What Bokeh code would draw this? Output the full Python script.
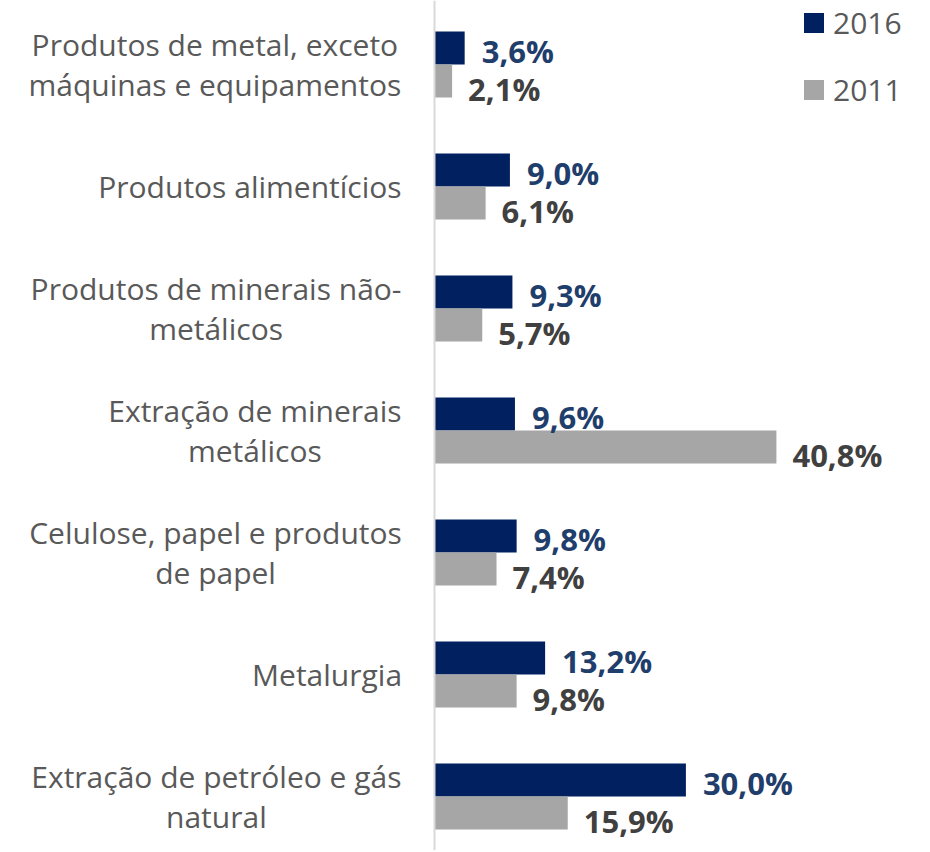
import unicodedata
from bokeh.plotting import figure
from bokeh.models import Range1d, Span, ColumnDataSource, Legend, LegendItem
from bokeh.core.properties import value
from bokeh.embed import file_html
from bokeh.resources import INLINE

categories = [
    "Produtos de metal, exceto\nmáquinas e equipamentos",
    "Produtos alimentícios",
    "Produtos de minerais não-\nmetálicos",
    "Extração de minerais\nmetálicos",
    "Celulose, papel e produtos\nde papel",
    "Metalurgia",
    "Extração de petróleo e gás\nnatural",
]
values_2016 = [3.6, 9.0, 9.3, 9.6, 9.8, 13.2, 30.0]
values_2011 = [2.1, 6.1, 5.7, 40.8, 7.4, 9.8, 15.9]
series_names = ["2016", "2011"]

FONT = "Open Sans"
CAT_SIZE = 30
C2016 = "#002060"
C2011 = "#A6A6A6"
L2016 = "#1F3E6B"
L2011 = "#404040"
CAT = "#595959"

# approximate Open Sans Regular advance widths (units per em = 2048),
# used only to centre multi-line labels under a right-aligned block
ADV = {" ": 532, ",": 502, "-": 659, ".": 545, "a": 1139, "b": 1255, "c": 975,
       "d": 1255, "e": 1149, "f": 694, "g": 1122, "h": 1257, "i": 518, "j": 518,
       "k": 1075, "l": 518, "m": 1905, "n": 1257, "o": 1237, "p": 1255, "q": 1255,
       "r": 836, "s": 977, "t": 723, "u": 1257, "v": 1026, "w": 1593, "x": 1073,
       "y": 1028, "z": 954, "C": 1245, "E": 1128, "M": 1761, "P": 1206}


def text_width(s, size):
    base = "".join(c for c in unicodedata.normalize("NFD", s)
                   if not unicodedata.combining(c))
    return sum(ADV.get(c, 1100) for c in base) / 2048 * size


idx = list(range(len(categories)))
bh = 0.27


def fmt(v):
    return f"{v:.1f}%".replace(".", ",")


src16 = ColumnDataSource(dict(y=[i - bh / 2 for i in idx], v=values_2016,
                              lab=[fmt(v) for v in values_2016]))
src11 = ColumnDataSource(dict(y=[i + bh / 2 for i in idx], v=values_2011,
                              lab=[fmt(v) for v in values_2011]))
cat_offsets = [-33 - max(text_width(l, CAT_SIZE) for l in c.split("\n")) / 2
               for c in categories]
srccat = ColumnDataSource(dict(y=idx, x=[0] * len(idx), t=categories, xo=cat_offsets))

p = figure(width=928, height=850, x_range=Range1d(-51.79, 58.95),
           y_range=Range1d(6.4426, -0.5246), output_backend="svg",
           toolbar_location=None, min_border=0)
p.axis.visible = False
p.grid.visible = False
p.outline_line_color = None
p.background_fill_color = "white"

r16 = p.hbar(y="y", right="v", left=0, height=bh, source=src16,
             fill_color=C2016, line_color=None)
r11 = p.hbar(y="y", right="v", left=0, height=bh, source=src11,
             fill_color=C2011, line_color=None)

p.add_layout(Span(location=0, dimension="height", line_color="#D9D9D9", line_width=2))

p.text(x="v", y="y", text="lab", source=src16, x_offset=17, y_offset=3,
       text_font=value(FONT), text_font_style="bold", text_font_size="31px",
       text_color=L2016, text_baseline="middle", text_align="left")
p.text(x="v", y="y", text="lab", source=src11, x_offset=16, y_offset=8,
       text_font=value(FONT), text_font_style="bold", text_font_size="31px",
       text_color=L2011, text_baseline="middle", text_align="left")

p.text(x="x", y="y", text="t", source=srccat, x_offset="xo",
       text_font=value(FONT), text_font_size=f"{CAT_SIZE}px", text_color=CAT,
       text_baseline="middle", text_align="center", text_line_height=0.98)

legend = Legend(items=[LegendItem(label=series_names[0], renderers=[r16]),
                       LegendItem(label=series_names[1], renderers=[r11])],
                location=(801, 740), orientation="vertical",
                glyph_width=25, glyph_height=25, label_standoff=7,
                label_text_font=FONT, label_text_font_size="30px",
                label_text_color=CAT, spacing=26, padding=0, margin=0,
                border_line_alpha=0, background_fill_alpha=0)
p.add_layout(legend)

open("out.html", "w").write(file_html(p, INLINE))
